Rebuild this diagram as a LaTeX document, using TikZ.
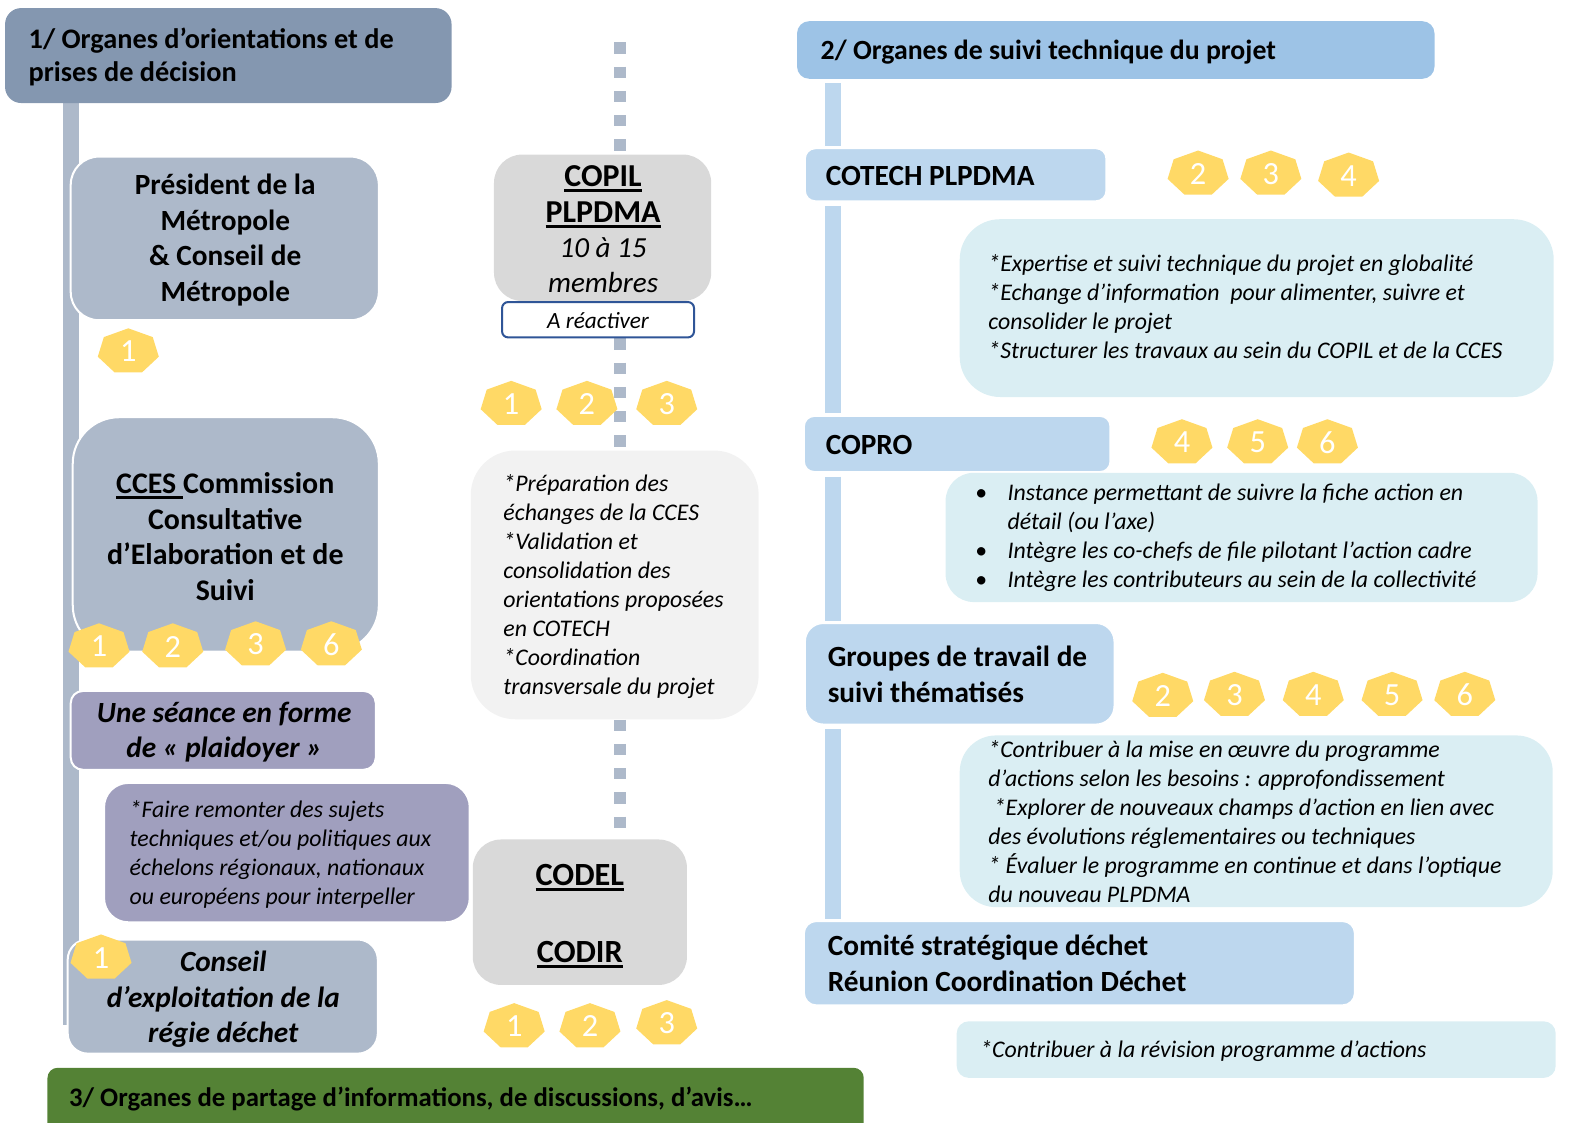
\documentclass[tikz,border=0pt]{standalone}
\usepackage{fontspec}
\setmainfont{Carlito}
\usetikzlibrary{fit,calc,backgrounds}
\definecolor{hdrA}{HTML}{8497B0}
\definecolor{slate}{HTML}{ADB9CA}
\definecolor{lilac}{HTML}{A09FBE}
\definecolor{boxgray}{HTML}{D9D9D9}
\definecolor{palegray}{HTML}{F2F2F2}
\definecolor{hdrB}{HTML}{9DC3E6}
\definecolor{skyb}{HTML}{BDD7EE}
\definecolor{paleb}{HTML}{DAEEF3}
\definecolor{grn}{HTML}{548235}
\definecolor{badgey}{HTML}{FFD966}
\definecolor{navy}{HTML}{2F5597}
\newcommand\uln[1]{\leavevmode\setbox0\hbox{#1}\rlap{\raisebox{-2.7pt}{\rule{\wd0}{1.5pt}}}\box0}
\newcommand\bul{\llap{\makebox[16pt][l]{\upshape\textbullet}}}
\newcommand\badge[4]{%
  \fill[badgey] (#2,#3) +(0,-23) -- +(-24.2,-14.3) -- +(-30.2,5.1) -- +(-13.5,20.7) -- +(13.5,20.7) -- +(30.2,5.1) -- +(24.2,-14.3) -- cycle;
  \node[badgetxt] (#1) at (#2,#3) {#4};}
\tikzset{
  txthdr/.style={font=\fontsize{#1}{16.5}\selectfont\bfseries, align=left, inner sep=0pt, anchor=base west},
  txtbold/.style={font=\fontsize{#1}{17.5}\selectfont\bfseries, align=center, inner sep=0pt, anchor=base},
  txtbold/.default=14.5,
  txtboldl/.style={font=\fontsize{14.5}{17.5}\selectfont\bfseries, align=left, inner sep=0pt, anchor=base west},
  txtbi/.style={font=\fontsize{14.5}{17.5}\selectfont\bfseries\itshape, align=center, inner sep=0pt, anchor=base},
  txtit/.style={font=\fontsize{11.8}{14.35}\selectfont\itshape, align=left, inner sep=0pt, anchor=base west},
  badgetxt/.style={font=\fontsize{16}{16}\selectfont, text=white, inner sep=0pt},
  slatebox/.style={fill=slate, draw=white, line width=1pt, inner sep=0pt},
  lilacbox/.style={fill=lilac, draw=white, line width=1pt, inner sep=0pt},
  graybox/.style={fill=boxgray, inner sep=0pt},
  skybox/.style={fill=skyb, draw=white, line width=0.75pt, inner sep=0pt},
  palebox/.style={fill=paleb, inner sep=0pt},
  lbar/.style={draw=slate, line width=7.75pt},
  rbar/.style={draw=skyb, line width=7.5pt, shorten <=2pt, shorten >=1pt},
  mline/.style={draw=slate, line width=6pt, dash pattern=on 5.5pt off 6.5pt},
}
\begin{document}
\begin{tikzpicture}[x=0.5pt,y=-0.5pt]
\useasboundingbox (0,0) rectangle (1568,1111);
\coordinate (lbarEnd) at (70.5,1015);
\coordinate (midTop) at (614,42);
\coordinate (rbarX) at (824.5,0);

% ---------- column 1 ----------
\node[fit={(5,8)(447,102)}, fill=hdrA, rounded corners=8pt, inner sep=0pt] (h1) {};
\node[txthdr=14] (h1t) at (28,81) {1/ Organes d’orientations et de\\prises de décision};

\node[slatebox, rounded corners=14pt, fit={(70,155)(375,317)}] (pres) {};
\node[txtbold] (prest) at (223,298) {Président de la\\Métropole\\\& Conseil de\\Métropole};

\node[slatebox, rounded corners=23pt, fit={(72,413)(375,645)}] (cces) {};
\node[txtbold=14.8] (ccest) at (223,594) {\uln{CCES }Commission\\Consultative\\d’Elaboration et de\\Suivi};

\node[lilacbox, rounded corners=6pt, fit={(70,684)(372,762)}] (seance) {};
\node[txtbi] (seancet) at (222,750) {Une séance en forme\\de «~plaidoyer~»};

\node[lilacbox, rounded corners=12pt, fit={(103,775)(465,913)}] (plaid) {};
\node[txtit] (plaidt) at (128,895) {*Faire remonter des sujets\\techniques et/ou politiques aux\\échelons régionaux, nationaux\\ou européens pour interpeller};

\node[slatebox, rounded corners=10pt, fit={(67,930)(374,1043)}] (conseil) {};
\node[txtbi] (conseilt) at (221,1032) {Conseil\\d’exploitation de la\\régie déchet};

\node[fit={(47,1057)(855,1130)}, fill=grn, rounded corners=5pt, inner sep=0pt] (h3) {};
\node[txthdr=13.25] (h3t) at (68,1095) {3/ Organes de partage d’informations, de discussions, d’avis…};

% ---------- column 2 ----------
\node[graybox, rounded corners=14pt, fit={(489,153)(704,298)}] (copil) {};
\node[txtbold=15.8] (copilt) at (597,290) {\uln{COPIL}\\\uln{PLPDMA}\\\fontsize{14.4}{17}\selectfont\textmd{\textit{10 à 15}}\\\fontsize{14.4}{17}\selectfont\textmd{\textit{membres}}};
\node[fit={(497,299)(687,334)}, fill=white, draw=navy, line width=1pt, rounded corners=3pt, inner sep=0pt] (react) {};
\node[font=\fontsize{11.5}{14}\selectfont\itshape, inner sep=0pt] (reactt) at (592,317) {A réactiver};

\node[fill=palegray, rounded corners=22pt, fit={(466,446)(751,712)}, inner sep=0pt] (mdesc) {};
\node[txtit] (mdesct) at (498,687) {*Préparation des\\échanges de la CCES\\*Validation et\\consolidation des\\orientations proposées\\en COTECH\\*Coordination\\transversale du projet};

\node[graybox, rounded corners=14pt, fit={(468,831)(680,975)}] (codel) {};
\node[txtbold=16] (codelt) at (574,877) {\uln{CODEL}};
\node[txtbold=16] (codirt) at (574,953) {\uln{CODIR}};

% ---------- column 3 ----------
\node[fit={(789,21)(1420,78)}, fill=hdrB, rounded corners=6pt, inner sep=0pt] (h2) {};
\node[txthdr=13.75] (h2t) at (812,59) {2/ Organes de suivi technique du projet};

\node[skybox, rounded corners=5pt, fit={(797,147)(1095,199)}] (cotech) {};
\node[txtboldl] (cotecht) at (817,184) {COTECH PLPDMA};

\node[palebox, rounded corners=20pt, fit={(950,217)(1538,393)}] (cotechd) {};
\node[txtit] (cotechdt) at (978,355) {*Expertise et suivi technique du projet en globalité\\*Echange d’information\ \ pour alimenter, suivre et\\consolider le projet\\*Structurer les travaux au sein du COPIL et de la CCES};

\node[skybox, rounded corners=5pt, fit={(796,412)(1099,467)}] (copro) {};
\node[txtboldl] (coprot) at (817,450) {COPRO};

\node[palebox, rounded corners=14pt, fit={(936,468)(1522,596)}] (coprod) {};
\node[txtit] (coprodt) at (997,582) {\bul Instance permettant de suivre la fiche action en\\détail (ou l’axe)\\\bul Intègre les co-chefs de file pilotant l’action cadre\\\bul Intègre les contributeurs au sein de la collectivité};

\node[skybox, rounded corners=9pt, fit={(797,617)(1103,717)}] (groupes) {};
\node[txtboldl] (groupest) at (819,695) {Groupes de travail de\\suivi thématisés};

\node[palebox, rounded corners=18pt, fit={(950,728)(1537,898)}] (groupesd) {};
\node[txtit] (groupesdt) at (978,893) {*Contribuer à la mise en œuvre du programme\\d’actions selon les besoins : approfondissement\\\ *Explorer de nouveaux champs d’action en lien avec\\des évolutions réglementaires ou techniques\\* Évaluer le programme en continue et dans l’optique\\du nouveau PLPDMA};

\node[skybox, rounded corners=6pt, fit={(796,912)(1341,995)}] (comite) {};
\node[txtboldl] (comitet) at (819,981) {Comité stratégique déchet\\Réunion Coordination Déchet};

\node[palebox, rounded corners=6pt, fit={(947,1011)(1540,1067)}] (lastd) {};
\node[txtit] (lastdt) at (970,1047) {*Contribuer à la révision programme d’actions};

% ---------- badges ----------
\badge{bP1}{127}{348}{1}
\badge{bC1}{98}{640}{1}
\badge{bC2}{171}{640}{2}
\badge{bC3}{253}{638}{3}
\badge{bC6}{328}{638}{6}
\badge{bK1}{100}{948}{1}
\badge{bM1}{506}{400}{1}
\badge{bM2}{581}{400}{2}
\badge{bM3}{660}{400}{3}
\badge{bD1}{509}{1016}{1}
\badge{bD2}{584}{1016}{2}
\badge{bD3}{660}{1013}{3}
\badge{bT2}{1186}{172}{2}
\badge{bT3}{1258}{172}{3}
\badge{bT4}{1335}{174}{4}
\badge{bR4}{1170}{438}{4}
\badge{bR5}{1245}{438}{5}
\badge{bR6}{1314}{438}{6}
\badge{bG2}{1151}{689}{2}
\badge{bG3}{1222}{688}{3}
\badge{bG4}{1300}{688}{4}
\badge{bG5}{1378}{688}{5}
\badge{bG6}{1450}{688}{6}

% ---------- bars ----------
\begin{scope}[on background layer]
\draw[lbar] (h1.south -| lbarEnd) -- (lbarEnd);
\draw[mline] (midTop) -- (copil.north -| midTop);
\draw[mline] (react.south -| midTop) -- (mdesc.north -| midTop);
\draw[mline] (mdesc.south -| midTop) -- (codel.north -| midTop);
\draw[rbar] (h2.south -| rbarX) -- (cotech.north -| rbarX);
\draw[rbar] (cotech.south -| rbarX) -- (copro.north -| rbarX);
\draw[rbar] (copro.south -| rbarX) -- (groupes.north -| rbarX);
\draw[rbar] (groupes.south -| rbarX) -- (comite.north -| rbarX);
\end{scope}
\end{tikzpicture}
\end{document}
